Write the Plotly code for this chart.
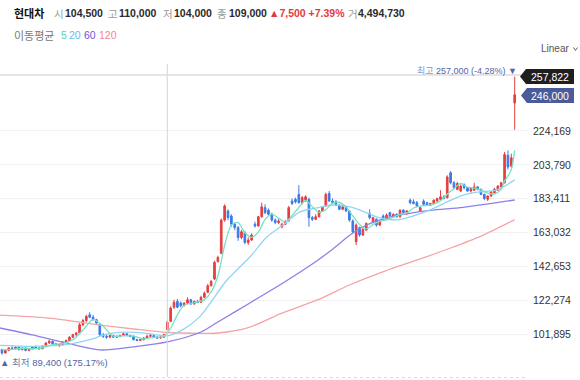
import plotly.graph_objects as go

# ---------------- data (prices in thousand KRW) ----------------
open_k = [92.5, 90.5, 92.0, 93.5, 93.0, 94.0, 92.5, 93.5, 92.0, 93.0,
          94.0, 93.5, 93.0, 94.5, 96.5, 97.5, 96.0, 95.0, 95.5, 97.0,
          98.0, 100.0, 101.5, 102.5, 107.5, 110.0, 113.5, 112.0, 110.5, 107.5,
          101.5, 100.5, 100.0, 101.0, 100.0, 100.5, 101.0, 102.0, 101.0, 100.5,
          98.5, 98.0, 98.5, 99.5, 100.5, 101.0, 100.0, 99.5, 100.0, 104.5,
          109.5, 118.0, 121.5, 120.5, 119.0, 120.5, 122.5, 120.0, 121.5, 121.0,
          124.0, 127.0, 131.0, 135.0, 145.5, 150.5, 170.5, 176.0, 173.0, 168.0,
          166.0, 160.0, 163.0, 157.0, 158.5, 168.0, 167.0, 172.5, 178.0, 176.5,
          174.0, 170.5, 169.0, 166.5, 168.0, 170.0, 182.0, 183.0, 186.0, 181.0,
          182.5, 183.0, 172.0, 171.0, 172.5, 176.0, 179.0, 186.5, 182.0, 181.5,
          179.5, 177.0, 178.5, 176.0, 170.0, 157.5, 166.0, 161.5, 164.5, 174.5,
          169.5, 171.0, 167.5, 173.0, 171.0, 175.0, 173.0, 174.0, 172.5, 176.5,
          175.0, 182.5, 181.5, 181.0, 176.0, 182.0, 181.0, 179.5, 180.5, 182.0,
          183.0, 184.5, 184.0, 199.0, 193.0, 189.0, 188.0, 192.0, 190.0, 188.0,
          188.5, 190.5, 189.0, 186.0, 183.0, 185.0, 187.0, 188.5, 190.5, 193.0,
          209.5, 203.0, 241.0]
high_k = [93.0, 92.5, 94.0, 94.5, 94.5, 94.5, 93.8, 94.0, 93.5, 94.5,
          95.0, 94.0, 95.0, 97.0, 98.5, 98.0, 96.5, 96.0, 97.5, 98.5,
          100.5, 102.0, 103.0, 108.5, 111.0, 113.5, 115.0, 113.5, 111.0, 108.0,
          102.5, 101.5, 101.5, 101.5, 101.0, 101.5, 103.0, 102.5, 101.5, 101.0,
          99.0, 99.0, 100.0, 101.5, 102.0, 101.5, 100.5, 100.5, 102.0, 110.0,
          118.5, 122.5, 123.0, 121.5, 121.0, 124.0, 123.0, 122.0, 122.5, 125.0,
          127.5, 132.0, 134.5, 146.0, 149.0, 171.5, 180.0, 177.0, 174.0, 169.0,
          167.0, 164.5, 164.0, 160.0, 162.5, 169.5, 173.0, 181.0, 180.0, 177.5,
          175.0, 171.5, 171.0, 169.0, 170.5, 179.0, 183.5, 184.0, 191.5, 185.0,
          185.5, 184.0, 173.0, 174.0, 176.5, 179.0, 187.0, 188.0, 183.5, 182.5,
          180.0, 179.0, 179.0, 176.5, 171.0, 168.5, 166.5, 165.5, 169.0, 177.0,
          172.5, 171.5, 170.5, 174.0, 174.5, 175.5, 174.5, 174.5, 177.0, 177.0,
          176.5, 183.5, 183.0, 182.0, 178.5, 183.0, 181.5, 181.0, 183.0, 184.0,
          188.5, 185.5, 197.5, 200.0, 194.0, 193.5, 192.0, 192.5, 190.5, 190.0,
          193.0, 191.0, 189.5, 186.5, 185.5, 188.0, 190.0, 191.5, 193.5, 211.5,
          212.5, 210.5, 257.0]
low_k = [89.4, 90.0, 91.5, 92.5, 92.5, 92.0, 92.0, 91.5, 91.5, 92.5,
         93.0, 92.5, 92.8, 94.0, 96.0, 95.5, 94.5, 94.0, 95.0, 96.5,
         97.5, 99.5, 100.5, 102.0, 106.5, 109.0, 111.5, 110.0, 108.0, 100.5,
         99.5, 99.0, 99.5, 99.5, 99.5, 100.0, 100.5, 100.5, 100.0, 98.0,
         97.5, 97.5, 98.0, 99.0, 100.0, 99.5, 99.0, 99.0, 99.5, 104.0,
         109.0, 117.0, 117.5, 118.0, 118.5, 120.0, 119.5, 119.5, 120.5, 120.5,
         123.5, 126.5, 130.5, 134.5, 145.0, 150.0, 169.5, 170.5, 166.5, 164.5,
         158.0, 159.0, 156.0, 155.5, 158.0, 166.0, 166.5, 172.0, 174.0, 173.0,
         169.5, 168.0, 168.0, 165.5, 167.5, 169.5, 179.5, 180.5, 180.5, 180.0,
         181.5, 166.5, 170.0, 170.5, 172.0, 175.5, 178.5, 181.5, 180.0, 179.0,
         176.5, 176.5, 175.5, 169.5, 162.5, 155.5, 160.5, 161.0, 164.0, 171.0,
         169.0, 166.5, 167.0, 170.5, 170.5, 172.5, 172.0, 172.0, 172.0, 174.5,
         173.5, 180.0, 180.0, 178.5, 175.5, 179.5, 179.0, 179.0, 180.0, 181.5,
         182.5, 183.0, 183.5, 192.0, 189.0, 188.5, 187.5, 189.0, 187.5, 187.0,
         188.0, 188.5, 185.5, 182.5, 182.0, 184.5, 186.5, 188.0, 190.0, 192.5,
         201.0, 202.0, 224.9]
close_k = [90.5, 92.0, 93.5, 93.0, 94.0, 92.5, 93.5, 92.0, 93.0, 94.0,
           93.5, 93.0, 94.5, 96.5, 97.5, 96.0, 95.0, 95.5, 97.0, 98.0,
           100.0, 101.5, 102.5, 107.5, 110.0, 112.5, 112.0, 110.5, 108.5, 101.5,
           100.5, 100.0, 101.0, 100.0, 100.5, 101.0, 102.0, 101.0, 100.5, 98.5,
           98.0, 98.5, 99.5, 100.5, 101.0, 100.0, 99.5, 100.0, 101.5, 109.0,
           117.5, 121.0, 118.0, 119.0, 120.5, 122.5, 120.0, 121.5, 121.0, 124.0,
           126.5, 131.0, 133.5, 145.0, 148.0, 170.5, 179.0, 172.0, 168.0, 166.0,
           160.0, 163.5, 157.0, 158.5, 161.5, 167.0, 172.5, 178.5, 175.0, 174.0,
           170.5, 169.0, 170.0, 168.0, 169.5, 178.0, 180.5, 181.5, 181.0, 184.0,
           184.5, 172.0, 171.0, 172.5, 176.0, 178.5, 186.0, 182.0, 181.0, 179.5,
           177.0, 178.5, 176.0, 170.5, 163.5, 167.5, 161.5, 165.0, 168.5, 172.0,
           172.0, 167.5, 169.5, 171.0, 173.5, 173.0, 174.0, 172.5, 176.5, 175.0,
           176.0, 181.0, 180.5, 179.0, 178.0, 180.0, 179.5, 180.5, 182.5, 183.5,
           184.5, 183.5, 196.5, 193.0, 190.0, 192.5, 191.0, 190.0, 188.0, 189.5,
           190.5, 189.0, 186.0, 183.5, 185.0, 187.5, 189.0, 191.0, 193.0, 210.0,
           202.5, 208.0, 246.0]
day_index = list(range(len(close_k)))

# moving averages (index, value in thousand KRW)
ma5_x = [0, 3, 6, 9, 12, 15, 18, 21, 24, 27, 30, 33, 36, 39, 42, 45, 48, 50, 52, 54,
         57, 60, 62, 64, 66, 68, 70, 72, 74, 76, 78, 80, 82, 84, 86, 88, 90, 92, 94, 96,
         98, 100, 102, 104, 106, 108, 110, 112, 114, 116, 118, 120, 122, 124, 126, 128,
         130, 132, 134, 136, 138, 140, 142, 144, 146, 148, 149, 150, 151, 152]
ma5_y = [92.5, 92.6, 93.3, 93.0, 93.6, 95.5, 96.2, 98.4, 104.3, 110.5, 106.6, 100.6,
         100.9, 100.6, 99.0, 99.9, 100.4, 105.5, 113.4, 119.2, 120.7, 122.6, 127.2, 136.8,
         155.2, 167.5, 169.0, 162.9, 160.1, 163.3, 170.9, 174.1, 171.7, 169.4, 173.2,
         178.1, 182.3, 178.5, 175.2, 176.8, 180.7, 181.1, 178.4, 173.1, 167.8, 165.2,
         167.8, 169.9, 170.7, 172.2, 173.9, 174.8, 177.8, 178.9, 179.4, 180.1, 182.1,
         186.1, 189.5, 192.6, 190.3, 189.8, 188.6, 186.8, 186.2, 189.1, 194.1, 197.1,
         200.9, 212.5]
ma20_x = [-0.6, 9, 19, 26, 31, 36, 42, 49, 54, 58.7, 66.7, 73.5, 78.5, 83.3, 88.3,
          93.4, 98, 103.2, 108, 112, 117, 122, 126.9, 131.5, 136.7, 141.5, 146.6, 152]
ma20_y = [95.0, 94.5, 95.5, 98.5, 101.8, 103.0, 102.6, 100.8, 105.0, 112.5, 134.4,
          148.3, 160.3, 167.5, 175.4, 177.8, 179.6, 178.4, 175.0, 171.8, 170.6, 173.0,
          176.6, 181.0, 185.6, 187.5, 188.6, 194.7]
ma60_x = [-0.6, 9, 19, 29, 39, 49, 59, 64, 73.5, 83.3, 93.4, 98, 103.2, 107, 112,
          117, 127, 136.7, 152]
ma60_y = [105.5, 101.3, 96.5, 92.3, 94.1, 97.1, 103.1, 109.1, 120.6, 132.6, 146.0,
          153.0, 161.5, 166.5, 170.5, 173.3, 176.4, 178.2, 182.6]
ma120_x = [-0.6, 14, 29, 39, 49, 59, 64, 73.5, 83, 93.5, 103, 113.5, 124, 133, 142, 152]
ma120_y = [113.3, 111.5, 107.3, 104.9, 102.8, 102.3, 102.5, 106.1, 114.5, 122.4,
           131.4, 139.8, 147.1, 153.7, 160.9, 170.8]

tick_vals_k = [101.895, 122.274, 142.653, 163.032, 183.411, 203.790, 224.169]
tick_text = ["101,895", "122,274", "142,653", "163,032", "183,411", "203,790", "224,169"]

crosshair_idx = 49
crosshair_price_k = 257.822
last_price_k = 246.0

# ---------------- layout geometry (pixels) ----------------
W, H = 580, 380
PL, PR, PT, PB = 0, 528, 64, 377
KPP = 0.6023                      # thousand KRW per pixel
Y0 = 101.895 - (PB - 334) * KPP
Y1 = 101.895 + (334 - PT) * KPP
SP = 3.373                        # pixels per candle
X0 = -2 / SP
X1 = X0 + (PR - PL) / SP


def px(x):
    return (x - PL) / (PR - PL)


def py(y):
    return (PB - y) / (PB - PT)


KR = "Noto Sans CJK KR, sans-serif"
NUM = "Liberation Sans, Arial, Noto Sans CJK KR, sans-serif"
RED = "#e63f3f"
BLUE = "#3a7be8"

fig = go.Figure()

for xs, ys, col in [(ma120_x, ma120_y, "#f6a4a4"),
                    (ma60_x, ma60_y, "#8f7fe9"),
                    (ma20_x, ma20_y, "#92d5f2"),
                    (ma5_x, ma5_y, "#77e0c5")]:
    fig.add_trace(go.Scatter(x=xs, y=ys, mode="lines",
                             line=dict(color=col, width=1.3, shape="spline", smoothing=0.8),
                             hoverinfo="skip", showlegend=False))

fig.add_trace(go.Candlestick(
    x=day_index, open=open_k, high=high_k, low=low_k, close=close_k,
    increasing=dict(line=dict(color=RED, width=1), fillcolor=RED),
    decreasing=dict(line=dict(color=BLUE, width=1), fillcolor=BLUE),
    whiskerwidth=0, showlegend=False, hoverinfo="skip"))

shapes = [
    dict(type="line", xref="x", yref="paper", x0=crosshair_idx, x1=crosshair_idx,
         y0=0, y1=1, line=dict(color="#d4d4d8", width=1)),
    dict(type="line", xref="paper", yref="y", x0=0, x1=px(521), y0=crosshair_price_k,
         y1=crosshair_price_k, line=dict(color="#dcdde2", width=1.5)),
    dict(type="line", xref="paper", yref="paper", x0=0, x1=1, y0=py(377.5), y1=py(377.5),
         line=dict(color="#dddddd", width=1, dash="dot")),
]


def tag_path(tip_x, y_c, x_l, x_r, h):
    y_t, y_b = y_c - h / 2, y_c + h / 2
    pts = [(tip_x, y_c), (x_l, y_t), (x_r, y_t), (x_r, y_b), (x_l, y_b)]
    return "M " + " L ".join(f"{px(a):.5f},{py(b):.5f}" for a, b in pts) + " Z"


shapes.append(dict(type="path", xref="paper", yref="paper",
                   path=tag_path(520, 76.5, 526, 574, 15),
                   fillcolor="#1f1f1f", line=dict(width=0)))
shapes.append(dict(type="path", xref="paper", yref="paper",
                   path=tag_path(521, 95.5, 527, 574, 15),
                   fillcolor="#4b5a99", line=dict(width=0)))
shapes.append(dict(type="path", xref="paper", yref="paper",
                   path=f"M {px(573.5)},{py(47.5)} L {px(575.5)},{py(50.5)} L {px(577.5)},{py(47.5)}",
                   line=dict(color="#666", width=1)))

ann = []


def text(x, y, s, size=11, color="#222", anchor="left", bold=False, family=NUM):
    ann.append(dict(xref="paper", yref="paper", x=px(x), y=py(y),
                    text=(f"<b>{s}</b>" if bold else s),
                    showarrow=False, xanchor=anchor, yanchor="middle",
                    font=dict(family=family, size=size, color=color)))


# header line 1
text(12, 13, "현대차", 11, "#111", bold=True, family=KR)
GRAY = "#9a9a9a"
VAL = "#2a2a2a"
for lx, lab, vx, val in [(52, "시", 63, "104,500"), (106, "고", 117, "110,000"),
                         (161, "저", 172, "104,000"), (215, "종", 227, "109,000")]:
    text(lx, 13, lab, 10.5, GRAY, family=KR)
    text(vx, 13, val, 10.5, VAL, bold=True)
text(267, 13, "▲7,500 +7.39%", 10.5, "#e5393b", bold=True)
text(346, 13, "거", 10.5, GRAY, family=KR)
text(356, 13, "4,494,730", 10.5, VAL, bold=True)

# header line 2 (moving-average legend)
text(12, 35, "이동평균", 11, "#777", family=KR)
text(59, 35, "5", 10.5, "#55d3b2")
text(66.5, 35, "20", 10.5, "#5fbcee")
text(82, 35, "60", 10.5, "#6a55d8")
text(96.5, 35, "120", 10.5, "#f28597")

text(570.5, 48, "Linear", 10, "#555", anchor="right")

# price tags
text(550, 76.5, "257,822", 10.5, "#ffffff", anchor="center")
text(550, 95.5, "246,000", 10.5, "#ffffff", anchor="center")

# high / low markers
text(519, 70.5, "<span style='color:#8f97c4'>최고</span> 257,000 (-4.28%) ▼", 9, "#5464a8", anchor="right")
text(-2, 362.5, "▲ <span style='color:#6f78b0'>최저</span> 89,400 (175.17%)", 9.5, "#5464a8")

fig.update_layout(
    width=W, height=H,
    margin=dict(l=PL, r=W - PR, t=PT, b=H - PB),
    paper_bgcolor="white", plot_bgcolor="white",
    showlegend=False, hovermode=False,
    shapes=shapes, annotations=ann,
    xaxis=dict(range=[X0, X1], visible=False, rangeslider=dict(visible=False), fixedrange=True),
    yaxis=dict(range=[Y0, Y1], side="right", tickvals=tick_vals_k, ticktext=tick_text,
               showgrid=True, gridcolor="#f1f1f3", gridwidth=1, zeroline=False,
               showline=False, ticks="", ticklabelstandoff=4, automargin=False,
               tickfont=dict(family=NUM, size=10.5, color="#333"), fixedrange=True),
)

fig.write_html("out.html", config={"displayModeBar": False},
               post_script="document.body.style.margin='0px';")
